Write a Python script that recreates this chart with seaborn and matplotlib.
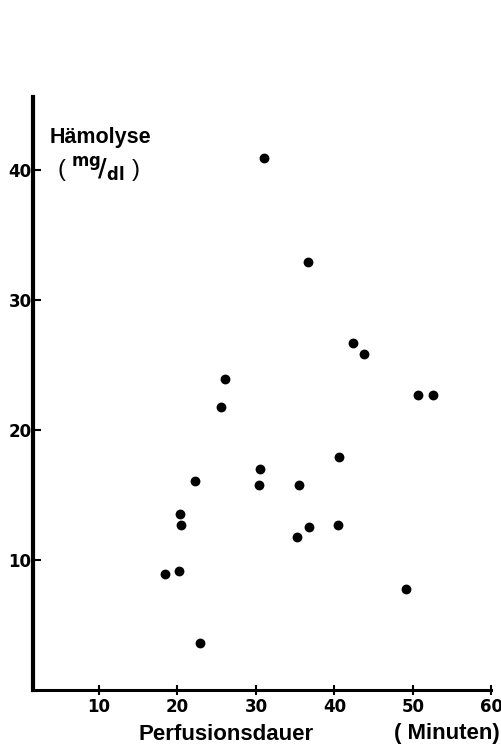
import matplotlib
matplotlib.use("Agg")
import matplotlib.pyplot as plt
import seaborn as sns
import pandas as pd

# Data
perfusion_min = [31.0, 36.6, 42.3, 43.8, 26.1, 25.6, 50.6, 52.6,
                 22.3, 30.5, 30.4, 35.5, 40.6,
                 20.3, 20.4, 35.2, 36.8, 40.4, 18.4, 20.2, 49.1, 22.9]
haemolyse_mgdl = [40.9, 32.9, 26.7, 25.8, 23.95, 21.8, 22.7, 22.7,
                  16.1, 17.0, 15.8, 15.8, 17.9,
                  13.5, 12.7, 11.8, 12.5, 12.7, 8.9, 9.15, 7.8, 3.6]
x_ticks = [10, 20, 30, 40, 50, 60]
y_ticks = [10, 20, 30, 40]

df = pd.DataFrame({"x": perfusion_min, "y": haemolyse_mgdl})

sns.set_theme(style="white")
plt.rcParams["font.family"] = ["DejaVu Sans"]
plt.rcParams["text.color"] = "black"
plt.rcParams["xtick.color"] = "black"
plt.rcParams["ytick.color"] = "black"

fig = plt.figure(figsize=(5.02, 7.55), dpi=100)
ax = fig.add_axes([0.0657, 0.0861, 0.9133, 0.7854])

sns.scatterplot(data=df, x="x", y="y", ax=ax, color="black", s=50,
                edgecolor="black", linewidth=0, legend=False)

ax.set_xlim(1.6, 60.0)
ax.set_ylim(0, 45.6)
ax.set_xticks(x_ticks)
ax.set_yticks(y_ticks)
ax.set_xticklabels([str(t) for t in x_ticks], fontsize=12, fontweight="bold",
                   color="black")
ax.set_yticklabels([str(t) for t in y_ticks], fontsize=12, fontweight="bold",
                   color="black")
ax.set_xlabel("")
ax.set_ylabel("")

for s in ["top", "right"]:
    ax.spines[s].set_visible(False)
ax.spines["left"].set_linewidth(3.0)
ax.spines["bottom"].set_linewidth(2.2)
ax.spines["left"].set_color("black")
ax.spines["bottom"].set_color("black")

ax.tick_params(axis="x", direction="inout", length=7, width=1.5, pad=2,
               colors="black", bottom=True)
ax.tick_params(axis="y", direction="in", length=6, width=1.5, pad=1,
               colors="black", left=True)

fam = ["Liberation Sans", "DejaVu Sans"]
fig.text(50 / 502, 1 - 137 / 755, "Hämolyse", fontsize=15.5, fontweight="bold",
         ha="left", va="center", family=fam, color="black")
fig.text(57 / 502, 1 - 170 / 755, r"( $\mathbf{^{mg}\!/_{dl}}$ )", fontsize=17,
         ha="left", va="center", family=fam, color="black")

fig.text(226 / 502, 1 - 734 / 755, "Perfusionsdauer", fontsize=16,
         fontweight="bold", ha="center", va="center", family=fam, color="black")
fig.text(500 / 502, 1 - 734 / 755, "( Minuten)", fontsize=16,
         fontweight="bold", ha="right", va="center", family=fam, color="black")

fig.savefig("out.png", dpi=100, facecolor="white")
